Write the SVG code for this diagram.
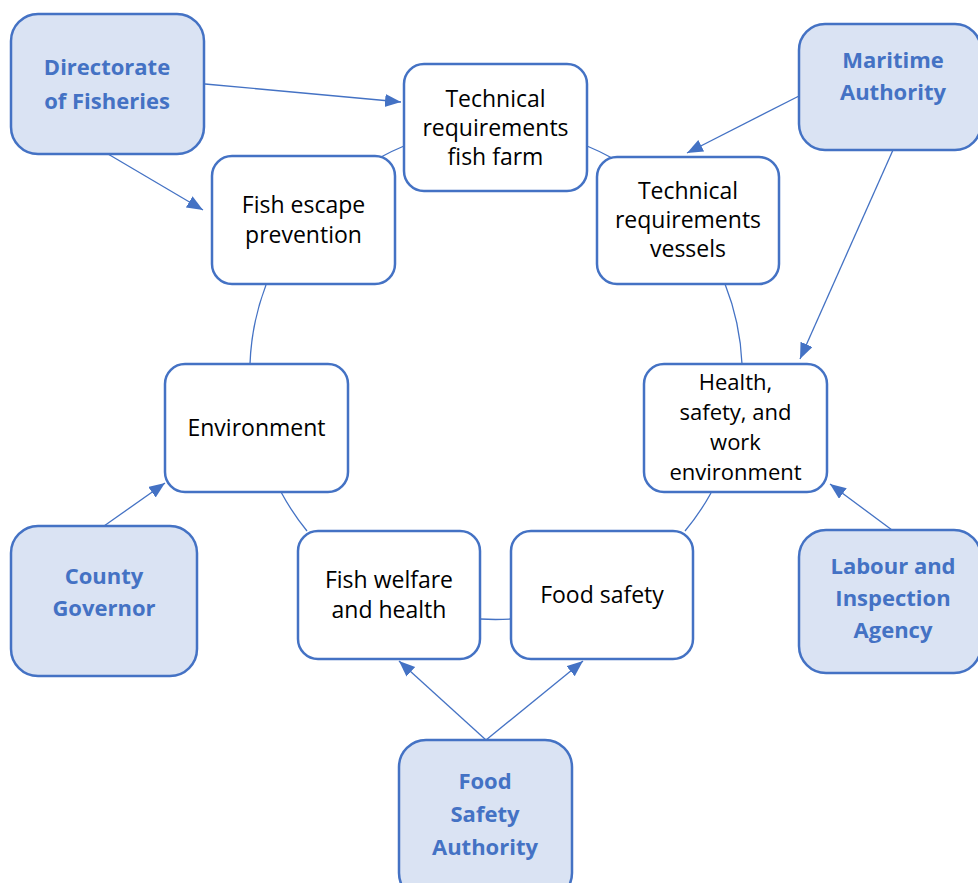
<svg xmlns="http://www.w3.org/2000/svg" width="978" height="883" viewBox="0 0 978 883">
  <style>
    .topic rect { fill: #FFFFFF; stroke: #4472C4; stroke-width: 2.5; }
    .agency rect { fill: #DAE3F3; stroke: #4472C4; stroke-width: 2.5; }
    .topic text { font-family: "Open Sans", "Noto Sans", sans-serif; font-size: 23px; fill: #000000; text-anchor: middle; }
    .agency text { font-family: "Open Sans", "Noto Sans", sans-serif; font-size: 22px; font-weight: bold; fill: #4472C4; text-anchor: middle; }
    #hse text { font-size: 22px; }
    .ring { fill: none; stroke: #4472C4; stroke-width: 1.3; }
    .arrow { fill: none; stroke: #4472C4; stroke-width: 1.3; marker-end: url(#head); }
  </style>
  <defs>
    <marker id="head" markerUnits="userSpaceOnUse" markerWidth="17" markerHeight="14" refX="16" refY="6.5" orient="auto">
      <path d="M0,0 L16,6.5 L0,13 z" fill="#4472C4"/>
    </marker>
  </defs>

  <rect width="978" height="883" fill="#FFFFFF"/>

  <!-- connectors: ring segments (circle centre 496,373 r 246) and agency arrows -->
  <g id="connectors">
    <path class="ring" d="M381,157 A246,246 0 0 1 404,146"/>
    <path class="ring" d="M587,146 A246,246 0 0 1 612,158"/>
    <path class="ring" d="M725,284 A246,246 0 0 1 742,364"/>
    <path class="ring" d="M711,493 A246,246 0 0 1 685,531"/>
    <path class="ring" d="M511,619 A246,246 0 0 1 480,619"/>
    <path class="ring" d="M307,531 A246,246 0 0 1 281,492"/>
    <path class="ring" d="M250,364 A246,246 0 0 1 266,285"/>

    <line class="arrow" x1="205" y1="84" x2="401" y2="102"/>
    <line class="arrow" x1="108" y1="154" x2="203" y2="210"/>
    <line class="arrow" x1="799" y1="96" x2="687" y2="153"/>
    <line class="arrow" x1="893" y1="150" x2="800" y2="359"/>
    <line class="arrow" x1="892" y1="530" x2="830" y2="484"/>
    <line class="arrow" x1="104" y1="526" x2="165" y2="483"/>
    <line class="arrow" x1="486" y1="740" x2="399" y2="661"/>
    <line class="arrow" x1="486" y1="740" x2="583" y2="661"/>
  </g>

  <!-- topic nodes -->
  <g id="tech-fish-farm" class="topic">
    <rect x="404" y="64" width="183" height="127" rx="20"/>
    <text x="495.5" y="107">Technical</text>
    <text x="495.5" y="136">requirements</text>
    <text x="495.5" y="165">fish farm</text>
  </g>
  <g id="fish-escape" class="topic">
    <rect x="212" y="156" width="183" height="128" rx="20"/>
    <text x="303.5" y="213">Fish escape</text>
    <text x="303.5" y="243">prevention</text>
  </g>
  <g id="tech-vessels" class="topic">
    <rect x="597" y="157" width="182" height="127" rx="20"/>
    <text x="688" y="199">Technical</text>
    <text x="688" y="228">requirements</text>
    <text x="688" y="257">vessels</text>
  </g>
  <g id="environment" class="topic">
    <rect x="165" y="364" width="183" height="128" rx="20"/>
    <text x="256.5" y="436">Environment</text>
  </g>
  <g id="hse" class="topic">
    <rect x="644" y="364" width="183" height="128" rx="20"/>
    <text x="735.5" y="390">Health,</text>
    <text x="735.5" y="420">safety, and</text>
    <text x="735.5" y="450">work</text>
    <text x="735.5" y="480">environment</text>
  </g>
  <g id="fish-welfare" class="topic">
    <rect x="298" y="531" width="182" height="128" rx="20"/>
    <text x="389" y="588">Fish welfare</text>
    <text x="389" y="618">and health</text>
  </g>
  <g id="food-safety" class="topic">
    <rect x="511" y="531" width="182" height="128" rx="20"/>
    <text x="602" y="603">Food safety</text>
  </g>

  <!-- agency nodes -->
  <g id="directorate-fisheries" class="agency">
    <rect x="11" y="14" width="193" height="140" rx="27"/>
    <text x="107" y="75">Directorate</text>
    <text x="107" y="109">of Fisheries</text>
  </g>
  <g id="maritime-authority" class="agency">
    <rect x="799" y="24" width="182" height="126" rx="26"/>
    <text x="893" y="68">Maritime</text>
    <text x="893" y="100">Authority</text>
  </g>
  <g id="county-governor" class="agency">
    <rect x="11" y="526" width="186" height="150" rx="27"/>
    <text x="104" y="584">County</text>
    <text x="104" y="616">Governor</text>
  </g>
  <g id="labour-inspection" class="agency">
    <rect x="799" y="530" width="182" height="143" rx="27"/>
    <text x="893" y="574">Labour and</text>
    <text x="893" y="606">Inspection</text>
    <text x="893" y="638">Agency</text>
  </g>
  <g id="food-safety-authority" class="agency">
    <rect x="399" y="740" width="173" height="160" rx="27"/>
    <text x="485" y="789">Food</text>
    <text x="485" y="822">Safety</text>
    <text x="485" y="855">Authority</text>
  </g>
</svg>
